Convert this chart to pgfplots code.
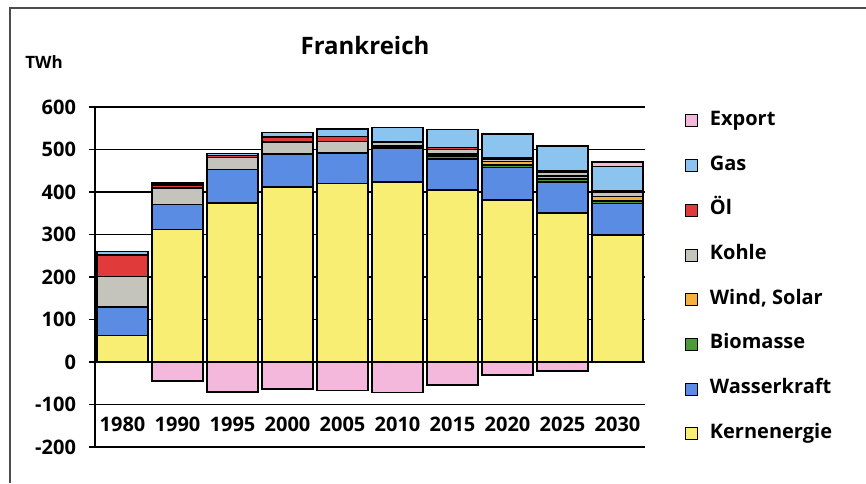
\documentclass[border=0pt]{standalone}
\usepackage{pgfplots}
\usepackage{pgfplotstable}
\pgfplotsset{compat=1.18}
\usepackage{fontspec}
\setmainfont{Open Sans}

\definecolor{kern}{RGB}{247,238,115}
\definecolor{wasser}{RGB}{90,140,228}
\definecolor{bio}{RGB}{76,154,58}
\definecolor{wind}{RGB}{245,176,66}
\definecolor{kohle}{RGB}{196,196,188}
\definecolor{oel}{RGB}{224,58,58}
\definecolor{gas}{RGB}{140,196,240}
\definecolor{export}{RGB}{244,184,220}

% x = 0..9 for 1980 ... 2030
\pgfplotstableread{
x kern wasser bio wind kohle oel gas exppos expneg
0 62 68 0 0 71 51 8 0 0
1 312 59 0 0 38 8 4 0 -45
2 374 79 0 0 28 5 5 0 -71
3 412 77 0 0 28 13 10 0 -64
4 420 72 0 0 27 12 17 0 -67
5 424 79 3 3 9 1 33 0 -72
6 405 72 8 5 10 5 42 0 -54
7 381 77 6 8 6 3 55 0 -31
8 350 74 6 8 9 4 57 0 -21
9 299 74 6 10 11 2 58 11 0
}\data

\begin{document}
\begin{tikzpicture}
\useasboundingbox (0pt,0pt) rectangle (433pt,241.5pt);
\draw[black!70, line width=0.6pt] (5pt,0pt) -- (5pt,237.5pt) -- (433pt,237.5pt);
\node[font=\fontsize{12}{14}\selectfont\bfseries] at (182.5pt,219pt) {Frankreich};
\node[font=\fontsize{8.5}{10}\selectfont\bfseries] at (22pt,210.5pt) {TWh};
\begin{axis}[
 at={(47.5pt,18pt)}, anchor=south west,
 scale only axis,
 width=275pt, height=170pt,
 ybar stacked,
 bar width=0.93,
 xmin=-0.5, xmax=9.5,
 ymin=-200, ymax=600,
 ytick={-200,-100,...,600},
 xtick=data,
 xticklabels={1980,1990,1995,2000,2005,2010,2015,2020,2025,2030},
 xtick style={draw=none},
 ytick align=outside,
 major tick length=3pt,
 ytick style={black, line width=0.6pt},
 ymajorgrids,
 grid style={black, line width=0.7pt},
 axis x line*=bottom,
 axis y line*=left,
 x axis line style={black, line width=0.7pt, -},
 y axis line style={black, line width=0.7pt, -},
 ticklabel style={font=\fontsize{10}{12}\selectfont\bfseries},
 /pgf/number format/assume math mode=true,
 xticklabel style={anchor=base, yshift=7.75pt},
 yticklabel style={xshift=-3pt},
 every axis plot/.append style={draw=black, line width=0.8pt},
 reverse legend,
 legend cell align=left,
 legend style={draw=none, fill=none, at={(1.0727,0.991)}, anchor=north west,
   inner sep=0pt, row sep=11.85pt,
   font=\fontsize{10}{12}\selectfont\bfseries,
   nodes={inner sep=1pt, text height=6.5pt, text depth=2pt}},
 legend image code/.code={\draw[#1, draw=black, line width=0.5pt] (0pt,-3pt) rectangle (6pt,3pt);
   \path[draw=none, fill=none] (0pt,0pt) -- (11pt,0pt);},
]
\addplot[fill=kern] table[x=x, y=kern] {\data};
\addlegendentry{Kernenergie}
\addplot[fill=wasser] table[x=x, y=wasser] {\data};
\addlegendentry{Wasserkraft}
\addplot[fill=bio] table[x=x, y=bio] {\data};
\addlegendentry{Biomasse}
\addplot[fill=wind] table[x=x, y=wind] {\data};
\addlegendentry{Wind, Solar}
\addplot[fill=kohle] table[x=x, y=kohle] {\data};
\addlegendentry{Kohle}
\addplot[fill=oel] table[x=x, y=oel] {\data};
\addlegendentry{Öl}
\addplot[fill=gas] table[x=x, y=gas] {\data};
\addlegendentry{Gas}
\addplot[fill=export] table[x=x, y=exppos] {\data};
\addlegendentry{Export}
\end{axis}
% net export (negative values) drawn from zero in an overlaid axis
\begin{axis}[
 at={(47.5pt,18pt)}, anchor=south west,
 scale only axis,
 width=275pt, height=170pt,
 ybar, bar width=0.93,
 xmin=-0.5, xmax=9.5,
 ymin=-200, ymax=600,
 axis lines=none, ticks=none,
]
\addplot[fill=export, draw=black, line width=0.8pt] table[x=x, y=expneg] {\data};
\end{axis}
\end{tikzpicture}
\end{document}
